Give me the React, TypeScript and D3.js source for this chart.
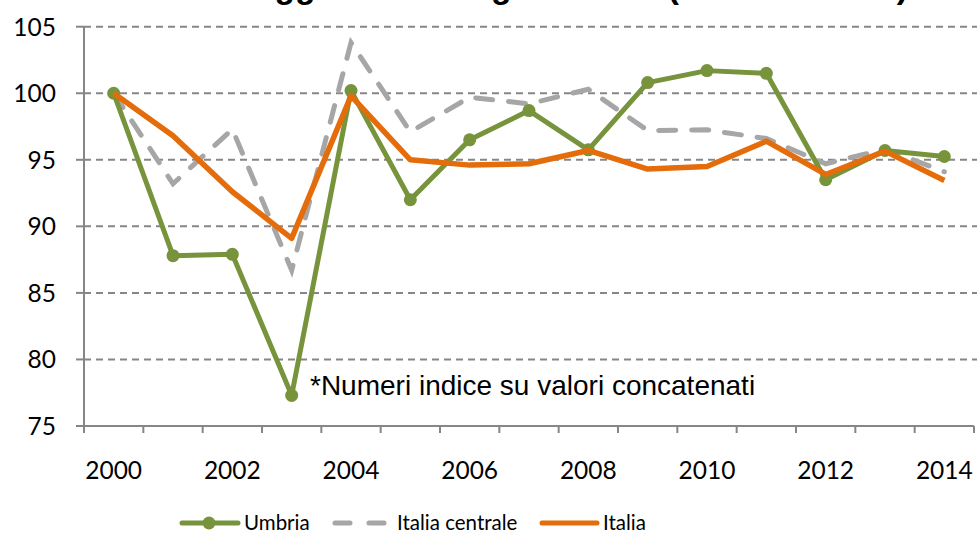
import React from "react";
import * as d3 from "d3";

const years = [2000, 2001, 2002, 2003, 2004, 2005, 2006, 2007, 2008, 2009, 2010, 2011, 2012, 2013, 2014];
const umbria = [100, 87.8, 87.9, 77.3, 100.2, 92.0, 96.5, 98.7, 95.75, 100.8, 101.7, 101.5, 93.5, 95.7, 95.25];
const italiaCentrale = [100, 93.2, 97.3, 86.7, 103.8, 97.1, 99.7, 99.2, 100.3, 97.2, 97.25, 96.6, 94.7, 95.8, 94.1];
const italia = [100, 96.8, 92.6, 89.1, 99.8, 95.0, 94.6, 94.7, 95.7, 94.3, 94.5, 96.4, 93.9, 95.65, 93.45];
const yTicks = [75, 80, 85, 90, 95, 100, 105];
const xLabels = [2000, 2002, 2004, 2006, 2008, 2010, 2012, 2014];

const W = 977;
const H = 534;
const GREEN = "#77933C";
const ORANGE = "#E46C0A";
const GREY = "#A6A6A6";
const AXIS = "#868686";
const LABEL_FONT = "Lato, 'Open Sans', sans-serif";

export default function App() {
  const x = d3.scaleBand<number>().domain(years).range([84, 974]);
  const cx = (yr: number) => (x(yr) ?? 0) + x.bandwidth() / 2;
  const y = d3.scaleLinear().domain([75, 105]).range([426, 26.7]);

  const line = (vals: number[]) =>
    d3.line<number>()
      .x((_, i) => cx(years[i]))
      .y((v) => y(v))(vals) ?? "";

  const tickXs = years.map((yr) => x(yr) ?? 0).concat([x.range()[1]]);

  return (
    <svg width={W} height={H} style={{ position: "absolute", left: 0, top: 0, display: "block", background: "#fff" }}>
      {/* title, cropped at the top like the source */}
      <text x={146} y={-2} fontFamily="'Liberation Sans', Arial, sans-serif" fontWeight="bold" fontSize={33.5} fill="#000">
        Valore aggiunto dell'agricoltura* (numeri indice)
      </text>

      {/* gridlines */}
      {yTicks.filter((t) => t > 75).map((t) => (
        <line key={t} x1={84} x2={W} y1={y(t)} y2={y(t)} stroke={AXIS} strokeWidth={2} strokeDasharray="7,5" />
      ))}

      {/* axes */}
      <line x1={84} x2={84} y1={y(105)} y2={y(75)} stroke={AXIS} strokeWidth={2} />
      <line x1={76} x2={x.range()[1]} y1={y(75)} y2={y(75)} stroke={AXIS} strokeWidth={2} />
      {yTicks.map((t) => (
        <g key={t}>
          <line x1={76} x2={84} y1={y(t)} y2={y(t)} stroke={AXIS} strokeWidth={2} />
          <text x={56} y={y(t)} dy="0.36em" textAnchor="end" fontFamily={LABEL_FONT} fontSize={24.5} fill="#000">
            {t}
          </text>
        </g>
      ))}
      {tickXs.map((tx, i) => (
        <line key={i} x1={tx} x2={tx} y1={y(75)} y2={y(75) + 7} stroke={AXIS} strokeWidth={2} />
      ))}
      {xLabels.map((yr) => (
        <text key={yr} x={cx(yr)} y={479} textAnchor="middle" fontFamily={LABEL_FONT} fontSize={24.5} fill="#000">
          {yr}
        </text>
      ))}

      {/* series */}
      <path d={line(italiaCentrale)} fill="none" stroke={GREY} strokeWidth={5} strokeDasharray="17,16" strokeLinecap="round" />
      <path d={line(umbria)} fill="none" stroke={GREEN} strokeWidth={5} strokeLinejoin="round" />
      {umbria.map((v, i) => (
        <circle key={i} cx={cx(years[i])} cy={y(v)} r={6.5} fill={GREEN} />
      ))}
      <path d={line(italia)} fill="none" stroke={ORANGE} strokeWidth={5.5} strokeLinejoin="round" />

      <text x={310} y={395} fontFamily="'Liberation Sans', Arial, sans-serif" fontSize={28} fill="#000">
        *Numeri indice su valori concatenati
      </text>

      {/* legend */}
      <g fontFamily={LABEL_FONT} fontSize={20.5} fill="#000">
        <line x1={182} x2={238} y1={523} y2={523} stroke={GREEN} strokeWidth={5} strokeLinecap="round" />
        <circle cx={209} cy={523} r={6.5} fill={GREEN} />
        <text x={244} y={530}>Umbria</text>
        <line x1={335} x2={385} y1={523} y2={523} stroke={GREY} strokeWidth={5} strokeDasharray="15,19" strokeLinecap="round" />
        <text x={397} y={530}>Italia centrale</text>
        <line x1={542} x2={597} y1={523} y2={523} stroke={ORANGE} strokeWidth={5} strokeLinecap="round" />
        <text x={603} y={530}>Italia</text>
      </g>
    </svg>
  );
}
